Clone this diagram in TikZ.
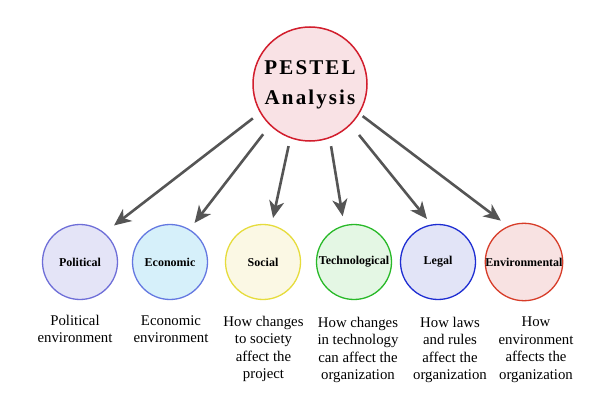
\documentclass[tikz,border=0pt]{standalone}
\usepackage{fontspec}
\setmainfont{Liberation Serif}
\newfontfamily\titlefont[LetterSpace=10]{Liberation Serif}
\usetikzlibrary{arrows.meta}
\definecolor{arrowgray}{HTML}{555555}
\definecolor{mainline}{RGB}{210,30,45}
\definecolor{mainfill}{RGB}{249,226,229}
\definecolor{polline}{RGB}{110,110,216}
\definecolor{polfill}{RGB}{228,228,247}
\definecolor{ecoline}{RGB}{100,120,225}
\definecolor{ecofill}{RGB}{214,240,250}
\definecolor{socline}{RGB}{230,220,60}
\definecolor{socfill}{RGB}{251,248,228}
\definecolor{tecline}{RGB}{40,185,40}
\definecolor{tecfill}{RGB}{228,247,228}
\definecolor{legline}{RGB}{30,45,210}
\definecolor{legfill}{RGB}{226,228,247}
\definecolor{envline}{RGB}{215,60,40}
\definecolor{envfill}{RGB}{248,226,226}
\tikzset{
  mainc/.style={circle, draw=mainline, fill=mainfill, line width=1.5pt, minimum size=114pt, inner sep=0pt},
  topic/.style={circle, draw=#1line, fill=#1fill, line width=1.3pt, minimum size=75pt, inner sep=0pt,
        font=\fontsize{12}{13}\selectfont\bfseries},
  desc/.style={anchor=north, align=center, inner sep=0pt, font=\fontsize{14.8}{17.4}\selectfont},
  link/.style={draw=arrowgray, line width=2.6pt, -{Stealth[length=17pt,width=15pt,inset=5pt]}}
}
\begin{document}
\begin{tikzpicture}[x=1pt,y=-1pt]
\useasboundingbox[fill=white] (0,0) rectangle (600,409);
\node[mainc] (main) at (310,84)
  {\titlefont\fontsize{21}{29}\selectfont\bfseries\begin{tabular}{@{}c@{}}PESTEL\\[1pt]Analysis\end{tabular}};
\node[topic=pol] (pol) at (80,262) {Political};
\node[topic=eco] (eco) at (170,262) {Economic};
\node[topic=soc] (soc) at (263,262) {Social};
\node[topic=tec] (tec) at (354,262) {Technological};
\node[topic=leg] (leg) at (438,262) {Legal};
\node[topic=env] (env) at (524,262) {Environmental};
\node[desc] (dpol) at (75,315) {Political\\environment};
\node[desc] (deco) at (171,315) {Economic\\environment};
\node[desc] (dsoc) at (263.5,316) {How changes\\to society\\affect the\\project};
\node[desc] (dtec) at (358,317) {How changes\\in technology\\can affect the\\organization};
\node[desc] (dleg) at (450,317) {How laws\\and rules\\affect the\\organization};
\node[desc] (denv) at (536,317) {How\\environment\\affects the\\organization};
\draw[link, shorten <=9pt, shorten >=12pt] (main.210.8) -- (pol.50.6);
\draw[link, shorten <=11pt, shorten >=8pt] (main.226.2) -- (eco.59.5);
\draw[link, shorten <=8pt, shorten >=7pt] (main.250.2) -- (soc.77);
\draw[link, shorten <=8pt, shorten >=9pt] (main.290.7) -- (tec.105);
\draw[link, shorten <=13pt, shorten >=7pt] (main.315.6) -- (leg.100);
\draw[link, shorten <=4pt, shorten >=9pt] (main.329) -- (env.114);
\end{tikzpicture}
\end{document}
